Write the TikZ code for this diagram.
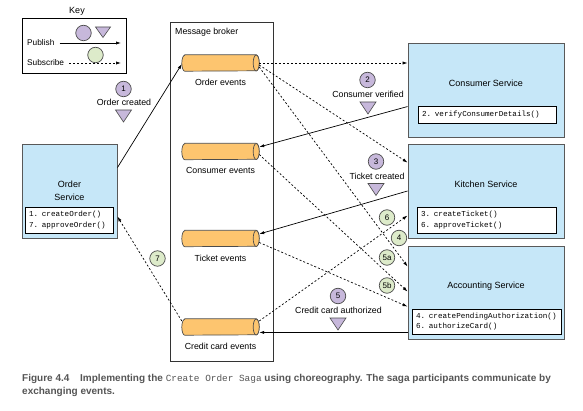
\documentclass[tikz,border=0pt]{standalone}
\usepackage{fontspec}
\setmainfont{Liberation Sans}
\setmonofont{Liberation Mono}
\usetikzlibrary{shapes.geometric,arrows.meta,calc}
\definecolor{svcblue}{HTML}{C6E7F8}
\definecolor{cylorange}{HTML}{FDC56F}
\definecolor{evpurple}{HTML}{C7B8DB}
\definecolor{evgreen}{HTML}{DDEBCA}
\definecolor{capgray}{HTML}{555555}
\newcommand\cylshape[1]{%
  \draw[cylsty] ([xshift=3pt]#1.north west) -- ([xshift=-3pt]#1.north east)
     arc[start angle=90, end angle=-90, x radius=3pt, y radius=8pt]
     -- ([xshift=3pt]#1.south west)
     arc[start angle=270, end angle=90, x radius=3pt, y radius=8pt] -- cycle;
  \draw[cylsty] ([xshift=-3pt]#1.east) ellipse [x radius=3pt, y radius=8pt];}
\begin{document}
\begin{tikzpicture}[x=1pt,y=-1pt,
  lbl/.style={font=\fontsize{8.8}{10}\selectfont, inner sep=0},
  svc/.style={draw=black!65, fill=svcblue, line width=0.9pt, inner sep=0},
  codebox/.style={draw=black, fill=white, line width=0.7pt, align=left, inner xsep=4pt, inner ysep=0pt,
     font=\fontsize{7.6}{10.5}\selectfont\ttfamily},
  cylbox/.style={rectangle, minimum width=77, minimum height=16, inner sep=0},
  cylsty/.style={draw=black!70, fill=cylorange, line width=0.7pt},
  pubc/.style={circle, draw=black!70, fill=evpurple, minimum size=15.5, inner sep=0, line width=0.7pt,
     font=\fontsize{8}{8}\selectfont},
  subc/.style={pubc, fill=evgreen},
  publine/.style={line width=0.7pt, -{Latex[length=5pt,width=3.2pt]}},
  subline/.style={line width=0.7pt, dash pattern=on 2pt off 2pt, -{Latex[length=5pt,width=3.2pt]}},
  evtri/.pic={\draw[fill=evpurple, draw=black!70, line width=0.6pt] (-8,-6) -- (8,-6) -- (0,6) -- cycle;},
  keytri/.pic={\draw[fill=evpurple, draw=black!70, line width=0.6pt] (-7.5,-5) -- (7.5,-5) -- (0,5.5) -- cycle;}
]
\useasboundingbox (0,0) rectangle (583,411);

% Key
\node[lbl, font=\fontsize{9}{10}\selectfont] (keytitle) at (77,11) {Key};
\node[draw=black, line width=0.8pt, minimum width=104, minimum height=55, inner sep=0] (key) at (74,45.5) {};
\node[pubc] (kpc) at (83.5,33) {};
\pic at (103,32) {keytri};
\node[subc] (ksc) at (95.5,55) {};
\node[lbl, anchor=west, font=\fontsize{8.3}{10}\selectfont] (kpub) at (27,43) {Publish};
\node[lbl, anchor=west, font=\fontsize{8.3}{10}\selectfont] (ksub) at (27,63) {Subscribe};
\coordinate (kpe) at (121,43);
\coordinate (kse) at (121,63);
\draw[publine] ([xshift=5]kpub.east) -- (kpe);
\draw[subline] ([xshift=5]ksub.east) -- (kse);

% Message broker
\node[draw=black!80, line width=0.9pt, minimum width=103, minimum height=339, inner sep=0] (broker) at (221.5,191.5) {};
\node[lbl, anchor=west] (brokert) at (175,32) {Message broker};

\node[cylbox] (oe) at (220.5,63) {};
\node[cylbox] (cev) at (220.5,151.5) {};
\node[cylbox] (tev) at (220.5,238.5) {};
\node[cylbox] (ccev) at (220.5,327) {};
\cylshape{oe}
\cylshape{cev}
\cylshape{tev}
\cylshape{ccev}
\node[lbl] (oel) at (220.5,82) {Order events};
\node[lbl] (cevl) at (220.5,170) {Consumer events};
\node[lbl] (tevl) at (220.5,258) {Ticket events};
\node[lbl] (ccevl) at (220.5,346) {Credit card events};

% Services
\node[svc, minimum width=95, minimum height=94] (os) at (69.5,191) {};
\node[lbl, align=center, font=\fontsize{9}{13}\selectfont] (ost) at (69.5,190.5) {Order\\Service};
\node[codebox, minimum height=26, text width=80] (osc) at (69,220) {1. createOrder()\\7. approveOrder()};

\node[svc, minimum width=156, minimum height=94] (cs) at (486,90) {};
\node[lbl, font=\fontsize{9}{10}\selectfont] (cst) at (486,83) {Consumer Service};
\node[codebox, minimum height=17, text width=130] (csc) at (487,114.5) {2. verifyConsumerDetails()};

\node[svc, minimum width=156, minimum height=94] (ks) at (486,191) {};
\node[lbl, font=\fontsize{9}{10}\selectfont] (kst) at (486,184) {Kitchen Service};
\node[codebox, minimum height=26, text width=131] (ksc) at (486.5,220) {3. createTicket()\\6. approveTicket()};

\node[svc, minimum width=156, minimum height=93] (as) at (486,292.5) {};
\node[lbl, font=\fontsize{9}{10}\selectfont] (ast) at (486,286) {Accounting Service};
\node[codebox, minimum height=25, text width=141] (asc) at (486.5,321.5) {4. createPendingAuthorization()\\6. authorizeCard()};

% Event markers
\node[pubc] (e1) at (123.5,89) {1};
\node[lbl] (e1l) at (124,102) {Order created};
\pic at (123.5,116) {evtri};
\node[pubc] (e2) at (367.5,80) {2};
\node[lbl] (e2l) at (368,94) {Consumer verified};
\pic at (368,108) {evtri};
\node[pubc] (e3) at (376,161.5) {3};
\node[lbl] (e3l) at (377,176) {Ticket created};
\pic at (376,189.5) {evtri};
\node[pubc] (e5) at (338,296) {5};
\node[lbl] (e5l) at (338.5,310) {Credit card authorized};
\pic at (338,324) {evtri};

\node[subc] (s6) at (387,217.5) {6};
\node[subc] (s4) at (399,238) {4};
\node[subc] (s5a) at (387,257.5) {5a};
\node[subc] (s5b) at (387,285.5) {5b};
\node[subc] (s7) at (157.5,258.5) {7};

% Connectors
\draw[publine] ([yshift=-24]os.north east) -- ([yshift=-1]oe.west);
\draw[subline] (oe.east) -- (oe.east -| cs.west);
\draw[subline] ([yshift=-2]oe.east) -- ([yshift=-19]ks.north west);
\draw[subline] ([yshift=-4]oe.east) -- ([yshift=-21]as.north west);
\draw[publine] ([yshift=-64]cs.north west) -- ([yshift=4.5]cev.east);
\draw[subline] ([yshift=-3]cev.east) -- ([yshift=-46]as.north west);
\draw[publine] (ks.west) -- ([yshift=4.5]tev.east);
\draw[subline] ([yshift=-4]tev.east) -- ([yshift=-61]as.north west);
\draw[subline] ([yshift=6]ccev.east) -- ([yshift=-72]ks.north west);
\coordinate (asout) at ([yshift=7]as.south west);
\draw[publine] (asout) -- (asout -| ccev.east);
\draw[subline] ([yshift=6]ccev.west) -- ([yshift=-73]os.north east);

% Caption
\node[anchor=north west, inner sep=0, align=left, text=capgray,
      font=\fontsize{10}{13}\selectfont\bfseries] (cap) at (22,374)
  {Figure 4.4\hspace{8pt} Implementing the {\ttfamily\mdseries\fontsize{9.4}{13}\selectfont Create Order Saga} using choreography. The saga participants communicate by\\exchanging events.};
\end{tikzpicture}
\end{document}
